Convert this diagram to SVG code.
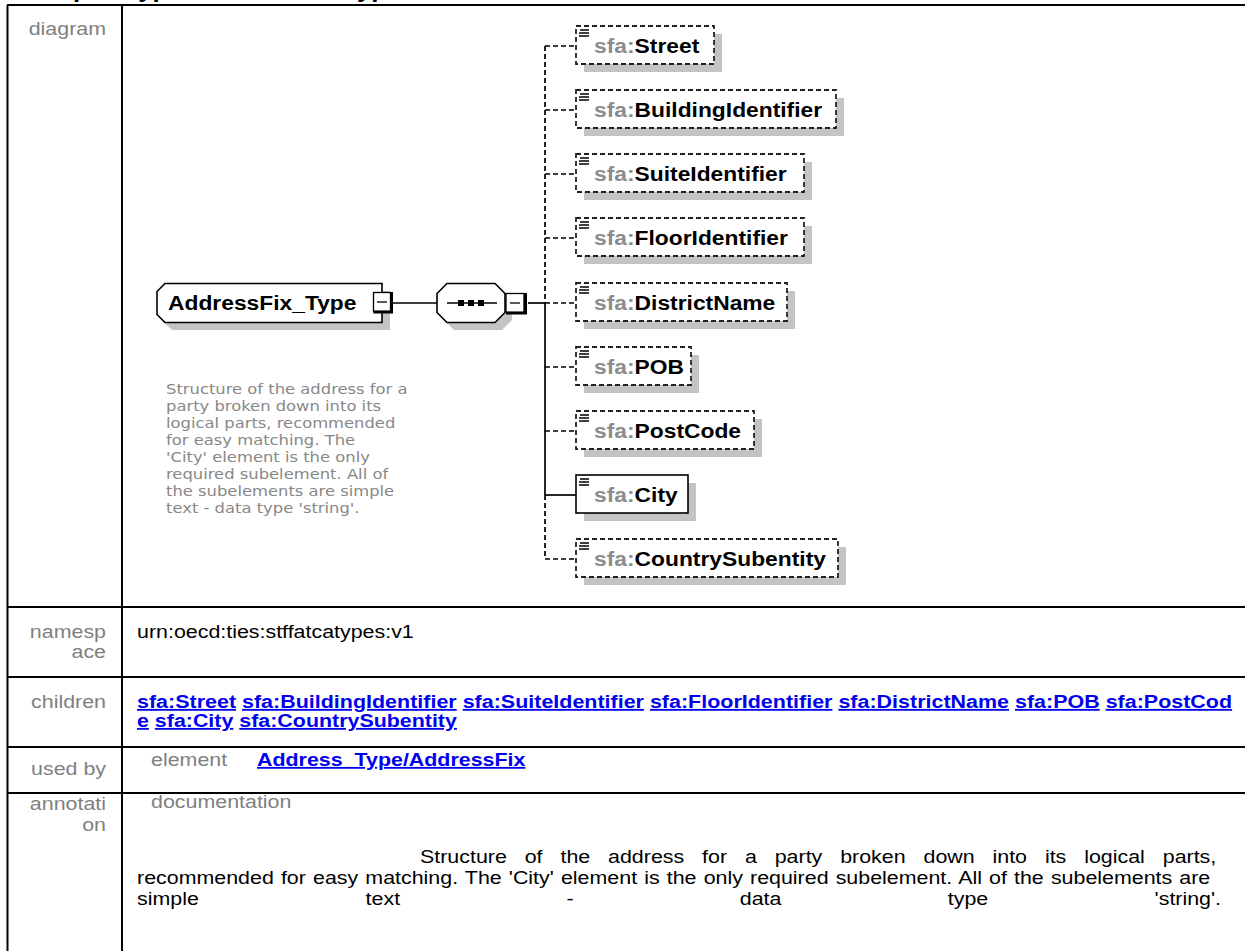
<svg xmlns="http://www.w3.org/2000/svg" width="1245" height="951" viewBox="0 0 1245 951">
<style>
.lbl{font-family:"Liberation Sans",Arial,sans-serif;font-size:18.3px;fill:#808080}
.txt{font-family:"Liberation Sans",Arial,sans-serif;font-size:18.3px;fill:#000}
.lnk{font-family:"Liberation Sans",Arial,sans-serif;font-size:18.3px;font-weight:bold;fill:#0000ee}
.u{text-decoration:underline}
.ttl{font-family:"Liberation Sans",Arial,sans-serif;font-size:22px;font-weight:bold;fill:#000}
.grid{stroke:#000;stroke-width:2;fill:none}
.nm{font-family:"Liberation Sans",Arial,sans-serif;font-size:19.5px;font-weight:bold;fill:#000}
.pfx{fill:#8c8c8c}
.box{fill:#fff;stroke:#000;stroke-width:1.6}
.opt{fill:#fff;stroke:#222;stroke-width:1.8;stroke-dasharray:5 3}
.shd{fill:#c4c4c4}
.conn{stroke:#000;stroke-width:1.7;fill:none}
.dash{stroke-dasharray:5 3}
.ico{stroke:#000;stroke-width:1.3;fill:none}
.thk{stroke:#000;stroke-width:3;fill:none}
.doc{font-family:"DejaVu Sans",Verdana,sans-serif;font-size:14px;fill:#888}
</style>

<g id="title">
<text class="ttl" transform="matrix(1.17,0,0,1,20,-3)">complexType AddressFix_Type</text>
</g>

<g id="table">
<line class="grid" x1="7" y1="5" x2="1245" y2="5"/>
<line class="grid" x1="7.5" y1="5" x2="7.5" y2="951"/>
<line class="grid" x1="122" y1="5" x2="122" y2="951"/>
<line class="grid" x1="7" y1="607" x2="1245" y2="607"/>
<line class="grid" x1="7" y1="677" x2="1245" y2="677"/>
<line class="grid" x1="7" y1="747" x2="1245" y2="747"/>
<line class="grid" x1="7" y1="793" x2="1245" y2="793"/>
</g>

<g id="labels" text-anchor="end">
<text class="lbl" transform="matrix(1.17,0,0,1,106,35)">diagram</text>
<text class="lbl" transform="matrix(1.17,0,0,1,106,638)">namesp</text>
<text class="lbl" transform="matrix(1.17,0,0,1,106,658)">ace</text>
<text class="lbl" transform="matrix(1.17,0,0,1,106,708)">children</text>
<text class="lbl" transform="matrix(1.17,0,0,1,106,775)">used by</text>
<text class="lbl" transform="matrix(1.17,0,0,1,106,810)">annotati</text>
<text class="lbl" transform="matrix(1.17,0,0,1,106,831)">on</text>
</g>

<g id="namespace">
<text class="txt" transform="matrix(1.17,0,0,1,137,638)">urn:oecd:ties:stffatcatypes:v1</text>
</g>

<g id="children-list">
<text class="lnk" transform="matrix(1.17,0,0,1,137,708)" textLength="936" lengthAdjust="spacingAndGlyphs"><tspan class="u">sfa:Street</tspan> <tspan class="u">sfa:BuildingIdentifier</tspan> <tspan class="u">sfa:SuiteIdentifier</tspan> <tspan class="u">sfa:FloorIdentifier</tspan> <tspan class="u">sfa:DistrictName</tspan> <tspan class="u">sfa:POB</tspan> <tspan class="u">sfa:PostCod</tspan></text>
<text class="lnk" transform="matrix(1.17,0,0,1,137,727)"><tspan class="u">e</tspan> <tspan class="u">sfa:City</tspan> <tspan class="u">sfa:CountrySubentity</tspan></text>
</g>

<g id="used-by">
<text class="lbl" transform="matrix(1.17,0,0,1,151,766)">element</text>
<text class="lnk u" transform="matrix(1.17,0,0,1,257,766)">Address_Type/AddressFix</text>
</g>

<g id="annotation">
<text class="lbl" transform="matrix(1.17,0,0,1,151,808)">documentation</text>
<text class="txt" transform="matrix(1.17,0,0,1,420,863)" word-spacing="10.2">Structure of the address for a party broken down into its logical parts,</text>
<text class="txt" transform="matrix(1.17,0,0,1,137,884)" word-spacing="1">recommended for easy matching. The 'City' element is the only required subelement. All of the subelements are</text>
<text class="txt" transform="matrix(1.17,0,0,1,137,905)">simple</text>
<text class="txt" transform="matrix(1.17,0,0,1,365.6,905)">text</text>
<text class="txt" transform="matrix(1.17,0,0,1,566.6,905)">-</text>
<text class="txt" transform="matrix(1.17,0,0,1,739.8,905)">data</text>
<text class="txt" transform="matrix(1.17,0,0,1,947.8,905)">type</text>
<text class="txt" transform="matrix(1.17,0,0,1,1154.6,905)">'string'.</text>
</g>

<g id="connectors">
<line class="conn" x1="393" y1="303" x2="437" y2="303"/>
<line class="conn" x1="528" y1="303" x2="545" y2="303"/>
<line class="conn dash" x1="545" y1="46" x2="545" y2="303"/>
<line class="conn" x1="545" y1="303" x2="545" y2="495"/>
<line class="conn dash" x1="545" y1="495" x2="545" y2="559"/>
<line class="conn dash" x1="545" y1="46" x2="576" y2="46"/>
<line class="conn dash" x1="545" y1="110" x2="576" y2="110"/>
<line class="conn dash" x1="545" y1="174" x2="576" y2="174"/>
<line class="conn dash" x1="545" y1="238" x2="576" y2="238"/>
<line class="conn dash" x1="545" y1="303" x2="576" y2="303"/>
<line class="conn dash" x1="545" y1="367" x2="576" y2="367"/>
<line class="conn dash" x1="545" y1="431" x2="576" y2="431"/>
<line class="conn" x1="545" y1="495" x2="576" y2="495"/>
<line class="conn dash" x1="545" y1="559" x2="576" y2="559"/>
</g>

<g id="AddressFix_Type">
<polygon class="shd" points="172,291 390,291 390,330 172,330 164,322 164,299"/>
<polygon class="box" points="165,283.5 382,283.5 382,322.5 165,322.5 157,314.5 157,291.5"/>
<text class="nm" transform="matrix(1.17,0,0,1,168,310)">AddressFix_Type</text>
<rect x="373.5" y="292.5" width="17" height="19" fill="#fff" stroke="#000" stroke-width="1.3"/>
<path class="thk" d="M391.5,292V313M373.5,312H393"/>
<line x1="377" y1="302" x2="387" y2="302" stroke="#000" stroke-width="1.3"/>
</g>

<g id="sequence">
<polygon class="shd" points="454,291 502,291 512,301 512,320 502,330 454,330 444,320 444,301"/>
<polygon class="box" points="447,283.5 495,283.5 505,293.5 505,312.5 495,322.5 447,322.5 437,312.5 437,293.5"/>
<line x1="447" y1="303" x2="497" y2="303" stroke="#000" stroke-width="1.5"/>
<rect x="458" y="300" width="6" height="6" fill="#000"/>
<rect x="468" y="300" width="6" height="6" fill="#000"/>
<rect x="478" y="300" width="6" height="6" fill="#000"/>
<rect x="506" y="293.5" width="18" height="19" fill="#fff" stroke="#000" stroke-width="1.3"/>
<path class="thk" d="M525.5,293V314M506,313H527"/>
<line x1="510" y1="303" x2="520" y2="303" stroke="#000" stroke-width="1.3"/>
</g>

<g id="Street">
<rect class="shd" x="584" y="34" width="138" height="38"/>
<rect class="opt" x="576" y="26" width="138" height="38"/>
<path class="ico" d="M580,30h9M579,33h10M579,36h10"/>
<text class="nm" transform="matrix(1.17,0,0,1,594,53)"><tspan class="pfx">sfa:</tspan>Street</text>
</g>
<g id="BuildingIdentifier">
<rect class="shd" x="584" y="98" width="260" height="38"/>
<rect class="opt" x="576" y="90" width="260" height="38"/>
<path class="ico" d="M580,94h9M579,97h10M579,100h10"/>
<text class="nm" transform="matrix(1.17,0,0,1,594,117)"><tspan class="pfx">sfa:</tspan>BuildingIdentifier</text>
</g>
<g id="SuiteIdentifier">
<rect class="shd" x="584" y="162" width="228" height="38"/>
<rect class="opt" x="576" y="154" width="228" height="38"/>
<path class="ico" d="M580,158h9M579,161h10M579,164h10"/>
<text class="nm" transform="matrix(1.17,0,0,1,594,181)"><tspan class="pfx">sfa:</tspan>SuiteIdentifier</text>
</g>
<g id="FloorIdentifier">
<rect class="shd" x="584" y="226" width="228" height="38"/>
<rect class="opt" x="576" y="218" width="228" height="38"/>
<path class="ico" d="M580,222h9M579,225h10M579,228h10"/>
<text class="nm" transform="matrix(1.17,0,0,1,594,245)"><tspan class="pfx">sfa:</tspan>FloorIdentifier</text>
</g>
<g id="DistrictName">
<rect class="shd" x="584" y="291" width="211" height="38"/>
<rect class="opt" x="576" y="283" width="211" height="38"/>
<path class="ico" d="M580,287h9M579,290h10M579,293h10"/>
<text class="nm" transform="matrix(1.17,0,0,1,594,310)"><tspan class="pfx">sfa:</tspan>DistrictName</text>
</g>
<g id="POB">
<rect class="shd" x="584" y="355" width="115" height="38"/>
<rect class="opt" x="576" y="347" width="115" height="38"/>
<path class="ico" d="M580,351h9M579,354h10M579,357h10"/>
<text class="nm" transform="matrix(1.17,0,0,1,594,374)"><tspan class="pfx">sfa:</tspan>POB</text>
</g>
<g id="PostCode">
<rect class="shd" x="584" y="419" width="178" height="38"/>
<rect class="opt" x="576" y="411" width="178" height="38"/>
<path class="ico" d="M580,415h9M579,418h10M579,421h10"/>
<text class="nm" transform="matrix(1.17,0,0,1,594,438)"><tspan class="pfx">sfa:</tspan>PostCode</text>
</g>
<g id="City">
<rect class="shd" x="584" y="483" width="112" height="38"/>
<rect class="box" x="576" y="475" width="112" height="38"/>
<path class="ico" d="M580,479h9M579,482h10M579,485h10"/>
<text class="nm" transform="matrix(1.17,0,0,1,594,502)"><tspan class="pfx">sfa:</tspan>City</text>
</g>
<g id="CountrySubentity">
<rect class="shd" x="584" y="547" width="262" height="38"/>
<rect class="opt" x="576" y="539" width="262" height="38"/>
<path class="ico" d="M580,543h9M579,546h10M579,549h10"/>
<text class="nm" transform="matrix(1.17,0,0,1,594,566)"><tspan class="pfx">sfa:</tspan>CountrySubentity</text>
</g>

<g id="description">
<text class="doc" transform="matrix(1.17,0,0,1,166,394)">Structure of the address for a</text>
<text class="doc" transform="matrix(1.17,0,0,1,166,411)">party broken down into its</text>
<text class="doc" transform="matrix(1.17,0,0,1,166,428)">logical parts, recommended</text>
<text class="doc" transform="matrix(1.17,0,0,1,166,445)">for easy matching. The</text>
<text class="doc" transform="matrix(1.17,0,0,1,166,462)">'City' element is the only</text>
<text class="doc" transform="matrix(1.17,0,0,1,166,479)">required subelement. All of</text>
<text class="doc" transform="matrix(1.17,0,0,1,166,496)">the subelements are simple</text>
<text class="doc" transform="matrix(1.17,0,0,1,166,513)">text - data type 'string'.</text>
</g>
</svg>
